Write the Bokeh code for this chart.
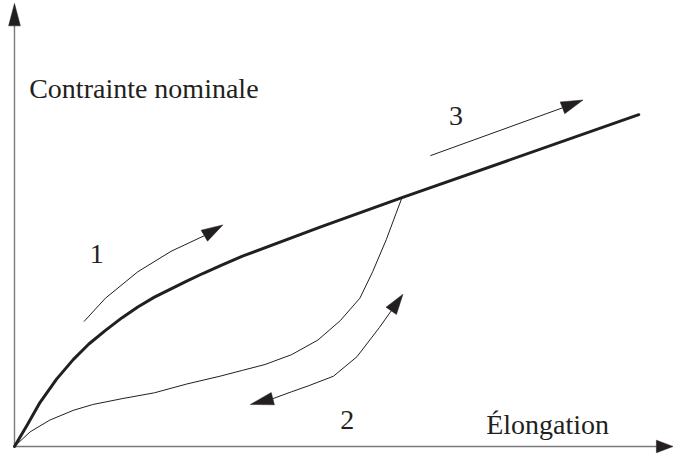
import numpy as np
from bokeh.plotting import figure
from bokeh.models import Range1d, Label
from bokeh.embed import file_html
from bokeh.resources import INLINE

# ---- data (elongation x, nominal stress y, arbitrary units) ----
# loading curve (1 then 3)
thick_x = [0, 13, 26, 43, 60, 76, 93, 110, 126, 143, 160, 176, 193, 210, 233, 313, 396, 638]
thick_y = [0, 22, 45, 69, 89, 105, 119, 132, 143, 153, 161.5, 169.5, 177.5, 185, 195, 225, 255, 340]
# unloading curve (2)
thin_x = [396, 390, 380, 366, 353, 333, 310, 283, 256, 233, 210, 176, 143, 110, 80, 60, 36, 16, 0]
thin_y = [255, 239, 212, 179, 152, 129, 109, 94, 84, 78, 72, 64, 55, 49, 43, 37, 27, 15, 0]
# direction arrows: path points, last point is the arrow tip
arrow1_x = [71, 93, 126, 160, 194, 213]
arrow1_y = [128, 152, 179, 200, 216, 227]
arrow2_x = [241, 264, 283, 300, 326, 350, 373, 385, 397]
arrow2_y = [43, 49, 56, 62, 72, 92, 122, 139, 156]
arrow3_x = [425, 560, 581]
arrow3_y = [298, 347, 355]
# axes: origin and arrow tips
yaxis_x = [0, 0, 0]
yaxis_y = [0, 431, 454]
xaxis_x = [0, 656, 673]
xaxis_y = [0, 0, 0]
# labels
label_text = ["Contrainte nominale", "\u00c9longation", "1", "2", "3"]
label_x = [15, 482, 77, 333, 444]
label_y = [367, 23, 197.5, 27, 339]

INK = "#231f20"
AXIS = "#7a7a7a"

p = figure(width=674, height=453, output_backend="svg", toolbar_location=None,
           x_range=Range1d(-14.3, 674.5), y_range=Range1d(-7.2, 457), min_border=0)
p.axis.visible = False
p.grid.visible = False
p.outline_line_color = None
p.background_fill_color = "white"
p.border_fill_color = "white"


def head(xs, ys, hw, start=False):
    if start:
        tx, ty, bx, by = xs[0], ys[0], xs[1], ys[1]
    else:
        tx, ty, bx, by = xs[-1], ys[-1], xs[-2], ys[-2]
    dx, dy = tx - bx, ty - by
    L = np.hypot(dx, dy)
    nx, ny = -dy / L, dx / L
    return ([tx, bx + nx * hw, bx - nx * hw], [ty, by + ny * hw, by - ny * hw])


# axes
p.line(yaxis_x[:2], yaxis_y[:2], line_color=AXIS, line_width=1.4)
p.line(xaxis_x[:2], xaxis_y[:2], line_color=AXIS, line_width=1.4)

heads_x, heads_y = [], []
for hx, hy in [head(yaxis_x[1:], yaxis_y[1:], 6), head(xaxis_x[1:], xaxis_y[1:], 6.5)]:
    heads_x.append(hx)
    heads_y.append(hy)

# curves
p.line(thick_x, thick_y, line_color=INK, line_width=3, line_join="round", line_cap="round")
p.line(thin_x, thin_y, line_color=INK, line_width=1, line_join="round")

# direction arrows
p.line(arrow1_x[:-1], arrow1_y[:-1], line_color=INK, line_width=1, line_join="round")
p.line(arrow2_x[1:-1], arrow2_y[1:-1], line_color=INK, line_width=1, line_join="round")
p.line(arrow3_x[:-1], arrow3_y[:-1], line_color=INK, line_width=1)
for hx, hy in [head(arrow1_x, arrow1_y, 6.5), head(arrow2_x, arrow2_y, 6.5),
               head(arrow2_x, arrow2_y, 6.5, start=True), head(arrow3_x, arrow3_y, 6.5)]:
    heads_x.append(hx)
    heads_y.append(hy)

p.patches(heads_x, heads_y, fill_color=INK, line_color=INK, line_width=0.5)

for t, x, y in zip(label_text, label_x, label_y):
    p.add_layout(Label(x=x, y=y, text=t, text_font="Liberation Serif",
                       text_font_size="28px", text_color=INK, text_align="left",
                       text_baseline="alphabetic"))

open("out.html", "w").write(file_html(p, INLINE))
